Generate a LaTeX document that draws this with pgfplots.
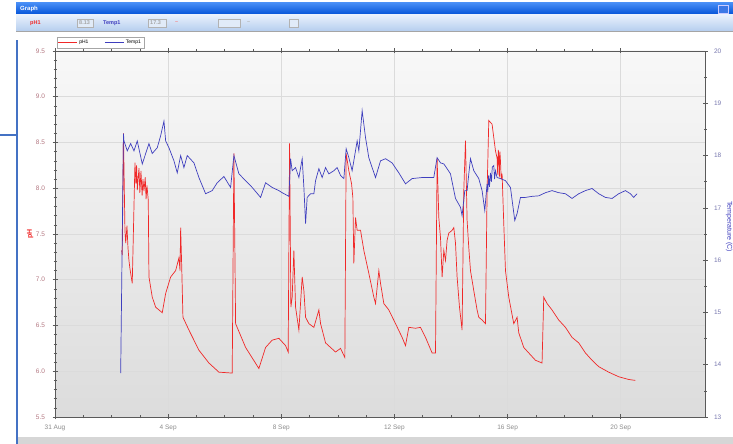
\documentclass[border=0pt]{standalone}
\usepackage{pgfplots}
\pgfplotsset{compat=1.18}
\usepackage{pgfplotstable}
\usepackage{fontspec}
\setmainfont{Liberation Sans}
\definecolor{phred}{RGB}{240,40,40}
\definecolor{tblue}{RGB}{62,62,190}
\definecolor{phlab}{RGB}{180,120,130}
\definecolor{tlab}{RGB}{120,120,175}
\definecolor{axgray}{RGB}{90,90,90}
\definecolor{winblue}{RGB}{68,114,196}
\definecolor{titletop}{RGB}{70,140,245}
\definecolor{titlebot}{RGB}{0,80,215}
\definecolor{btnblue}{RGB}{60,120,230}
\definecolor{tooltop}{RGB}{232,240,252}
\definecolor{toolbot}{RGB}{178,204,238}
\definecolor{sepgray}{RGB}{165,165,165}
\definecolor{fieldfill}{RGB}{225,235,248}
\definecolor{barfill}{RGB}{214,214,214}
\definecolor{bgtop}{RGB}{248,248,248}
\definecolor{bgbot}{RGB}{220,220,220}

\pgfplotstableread{
d ph
2.357 7.32
2.378 7.27
2.420 8.60
2.473 7.54
2.500 7.40
2.544 7.59
2.580 7.35
2.615 7.21
2.650 7.12
2.686 7.05
2.731 6.96
2.827 8.28
2.860 8.05
2.885 8.25
2.910 7.98
2.933 8.08
2.970 8.22
3.000 7.95
3.039 8.19
3.080 7.92
3.110 8.10
3.145 7.97
3.190 8.12
3.220 7.88
3.251 8.03
3.297 7.87
3.322 7.03
3.438 6.81
3.558 6.70
3.792 6.64
3.912 6.85
4.088 7.03
4.265 7.10
4.382 7.24
4.420 7.10
4.442 7.57
4.477 7.18
4.523 6.59
4.735 6.45
5.088 6.23
5.442 6.09
5.795 5.99
6.265 5.98
6.325 8.38
6.385 6.52
6.739 6.26
7.208 6.03
7.445 6.26
7.678 6.34
7.915 6.36
8.152 6.28
8.244 6.21
8.293 8.49
8.339 6.70
8.385 6.81
8.445 7.32
8.505 6.70
8.622 6.45
8.739 7.03
8.799 6.88
8.859 6.59
8.975 6.52
9.152 6.48
9.329 6.67
9.389 6.52
9.565 6.31
9.742 6.26
9.919 6.21
10.095 6.25
10.247 6.15
10.293 8.38
10.389 8.19
10.484 8.05
10.530 7.90
10.565 7.18
10.625 7.68
10.682 7.54
10.802 7.54
10.919 7.32
11.095 7.07
11.272 6.81
11.332 6.74
11.449 7.10
11.509 6.96
11.625 6.74
11.802 6.67
12.039 6.52
12.272 6.37
12.392 6.28
12.509 6.48
12.746 6.47
12.922 6.48
13.099 6.37
13.332 6.20
13.452 6.20
13.509 8.33
13.569 7.68
13.629 7.46
13.686 7.03
13.746 7.32
13.806 7.21
13.862 7.43
13.922 7.51
14.039 7.54
14.099 7.57
14.159 7.40
14.216 7.03
14.300 6.70
14.392 6.45
14.452 7.97
14.512 8.52
14.569 7.65
14.629 7.35
14.689 7.10
14.806 6.88
14.922 6.67
14.982 6.59
15.099 6.56
15.219 6.52
15.276 7.97
15.336 8.74
15.452 8.70
15.572 8.41
15.629 8.33
15.650 8.15
15.670 8.42
15.689 8.38
15.710 8.12
15.730 8.40
15.749 8.30
15.775 8.10
15.806 8.16
15.866 7.61
15.926 7.10
16.042 6.81
16.219 6.52
16.336 6.59
16.396 6.42
16.572 6.26
16.749 6.20
16.986 6.12
17.219 6.09
17.279 6.81
17.396 6.74
17.572 6.67
17.809 6.56
18.046 6.48
18.279 6.37
18.516 6.31
18.753 6.20
18.986 6.12
19.223 6.05
19.576 5.99
19.929 5.94
20.283 5.91
20.519 5.90
}\phtable

\pgfplotstableread{
d t
2.322 13.84
2.420 18.42
2.438 18.28
2.555 18.09
2.675 18.23
2.792 18.09
2.908 18.28
3.085 17.84
3.322 18.23
3.438 18.04
3.615 18.15
3.735 18.38
3.852 18.66
3.912 18.28
4.028 18.15
4.205 17.90
4.322 17.67
4.442 18.00
4.558 17.77
4.675 18.00
4.912 17.86
5.088 17.58
5.325 17.27
5.558 17.33
5.735 17.48
5.972 17.60
6.208 17.39
6.325 18.00
6.502 17.65
6.739 17.52
6.972 17.39
7.268 17.20
7.445 17.48
7.678 17.39
7.915 17.33
8.032 17.29
8.269 17.22
8.329 17.94
8.385 17.71
8.505 17.77
8.622 17.58
8.739 17.94
8.799 17.39
8.859 16.70
8.915 17.20
9.035 17.27
9.152 17.27
9.212 17.52
9.329 17.75
9.445 17.58
9.565 17.77
9.682 17.65
9.859 17.71
9.975 17.77
10.095 17.62
10.212 17.56
10.293 18.13
10.389 17.96
10.505 17.71
10.682 18.28
10.742 18.09
10.859 18.86
10.979 18.34
11.095 17.96
11.212 17.77
11.332 17.58
11.509 17.90
11.686 17.94
11.919 17.86
12.155 17.67
12.392 17.46
12.625 17.56
12.979 17.58
13.392 17.58
13.509 17.96
13.629 17.86
13.746 17.84
13.862 17.75
13.982 17.65
14.159 17.18
14.336 17.01
14.392 16.85
14.488 17.33
14.569 17.33
14.629 17.65
14.689 17.94
14.806 17.71
14.982 17.56
15.099 17.33
15.194 16.95
15.276 17.46
15.300 17.30
15.330 17.62
15.360 17.40
15.396 17.67
15.430 17.50
15.460 17.78
15.512 17.81
15.540 17.55
15.572 17.71
15.629 17.58
15.749 17.56
15.926 17.52
16.102 17.39
16.254 16.76
16.336 16.89
16.456 17.20
16.632 17.20
16.866 17.22
17.102 17.23
17.339 17.29
17.572 17.33
17.809 17.29
18.046 17.27
18.279 17.18
18.516 17.27
18.753 17.33
18.986 17.37
19.223 17.27
19.459 17.20
19.696 17.18
19.929 17.27
20.166 17.33
20.343 17.27
20.459 17.20
20.576 17.27
}\ttable

\begin{document}
\begin{tikzpicture}[x=1pt,y=1pt]
\useasboundingbox (0,0) rectangle (733,444);
\fill[white] (0,0) rectangle (733,444);
% window chrome
\shade[top color=titletop, bottom color=titlebot] (16,429) rectangle (733,441);
\node[anchor=west, text=white, font=\fontsize{6}{7}\selectfont\bfseries, inner sep=0pt] at (20,435) {Graph};
\draw[white!80!blue, fill=btnblue] (718,431) rectangle (728,439);
\shade[top color=tooltop, bottom color=toolbot] (16,412) rectangle (733,429);
\draw[sepgray, line width=1pt] (16,412) -- (733,412);
\foreach \a/\b in {77/93,148/166,218/240,289/298}
  \draw[gray!60, fill=fieldfill] (\a,417) rectangle (\b,425);
\begin{scope}[font=\fontsize{5.5}{6}\selectfont\bfseries]
\node[anchor=west, text=phred, inner sep=0pt] at (30,421) {pH1};
\node[anchor=west, text=tblue, inner sep=0pt] at (103,421) {Temp1};
\node[anchor=west, text=phred!60, inner sep=0pt] at (175,421) {--};
\node[anchor=west, text=gray!60, inner sep=0pt] at (247,421) {--};
\node[anchor=west, text=gray!70, inner sep=0pt] at (79,421) {8.13};
\node[anchor=west, text=gray!70, inner sep=0pt] at (150,421) {17.3};
\end{scope}
\fill[barfill] (17,0) rectangle (733,8);
\draw[white] (17,8) -- (733,8);
\draw[winblue, line width=1.3pt] (17,0) -- (17,404);
\draw[winblue, line width=1.3pt] (0,309) -- (17,309);

\begin{axis}[
  at={(55pt,27pt)}, anchor=south west, scale only axis,
  width=650pt, height=366pt,
  xmin=0, xmax=22.98, ymin=5.5, ymax=9.5,
  axis line style={axgray, line width=0.8pt},
  axis background/.style={shade, top color=bgtop, bottom color=bgbot},
  xtick={0,4,8,12,16,20},
  xticklabels={31 Aug,4 Sep,8 Sep,12 Sep,16 Sep,20 Sep},
  minor x tick num=3,
  ytick={5.5,6.0,6.5,7.0,7.5,8.0,8.5,9.0,9.5},
  minor y tick num=4,
  xtick pos=both, ytick pos=left,
  tick align=center,
  major tick length=5pt, minor tick length=3pt,
  tick style={axgray, line width=0.5pt},
  xmajorgrids, ymajorgrids,
  major grid style={gray!28, line width=0.5pt},
  /pgf/number format/assume math mode=true,
  yticklabel style={font=\fontsize{6.5}{7}\selectfont, text=phlab, xshift=-4pt, /pgf/number format/.cd, fixed, fixed zerofill, precision=1},
  xticklabel style={font=\fontsize{6.5}{7}\selectfont, text=gray!90, yshift=-2pt},
  ylabel={pH},
  ylabel style={at={(axis description cs:-0.038,0.5)}, anchor=center, text=phred, font=\fontsize{7}{8}\selectfont\bfseries},
]
\addplot[phred, line width=0.7pt] table[x=d, y=ph] {\phtable};
\end{axis}

\begin{axis}[
  at={(55pt,27pt)}, anchor=south west, scale only axis,
  width=650pt, height=366pt,
  xmin=0, xmax=22.98, ymin=13, ymax=20,
  axis y line*=right, axis x line=none,
  axis line style={axgray, line width=0.8pt},
  ytick={13,14,...,20},
  minor y tick num=1,
  tick align=center,
  major tick length=5pt, minor tick length=3pt,
  tick style={axgray, line width=0.5pt},
  /pgf/number format/assume math mode=true,
  yticklabel style={font=\fontsize{6.5}{7}\selectfont, text=tlab, xshift=3pt},
  ylabel={Temperature (C)},
  ylabel style={at={(axis description cs:1.037,0.52)}, anchor=center, rotate=180, text=tblue, font=\fontsize{7}{8}\selectfont},
  legend style={at={(axis description cs:0,1)}, anchor=south west, xshift=2pt, yshift=3pt,
    draw=gray!70, fill=white, font=\fontsize{5}{5.5}\selectfont, inner sep=0.8pt,
    legend columns=2, /tikz/every even column/.append style={column sep=14pt}},
  legend image post style={xscale=1.1},
  legend cell align=left,
]
\addlegendimage{phred, line width=0.5pt}
\addlegendentry{pH1}
\addplot[tblue, line width=0.7pt] table[x=d, y=t] {\ttable};
\addlegendentry{Temp1}
\end{axis}
\end{tikzpicture}
\end{document}
